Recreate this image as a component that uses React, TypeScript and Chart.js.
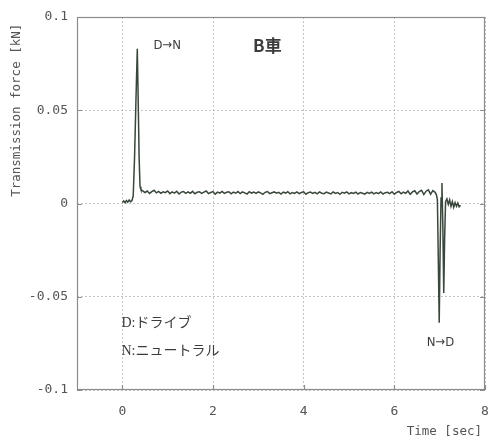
import React, { useEffect, useRef } from "react";
import { Chart, registerables } from "chart.js";
Chart.register(...registerables);

// ---- data ----
const xTickValues = [0, 2, 4, 6, 8];
const yTickValues = [-0.1, -0.05, 0, 0.05, 0.1];
const yTickLabels = ["-0.1", "-0.05", "0", "0.05", "0.1"];

// before shift and D→N spike
const preTimes = [0.0, 0.03, 0.06, 0.09, 0.12, 0.15, 0.18, 0.21, 0.24, 0.27, 0.3, 0.33, 0.35, 0.37, 0.39, 0.41];
const preForces = [0.0006, 0.0014, 0.0004, 0.0016, 0.0007, 0.0019, 0.001, 0.0015, 0.004, 0.025, 0.055, 0.083, 0.055, 0.025, 0.009, 0.0075];

// neutral plateau, sampled every 0.05 s from 0.45 s
const flatStart = 0.45;
const flatStep = 0.05;
const flatForces = [
  0.0068, 0.0059, 0.0067, 0.0054, 0.0064, 0.0071, 0.0057, 0.0065, 0.0055, 0.0063,
  0.0058, 0.0067, 0.0053, 0.0062, 0.0056, 0.0066, 0.0051, 0.0061, 0.0064, 0.0054,
  0.0062, 0.0055, 0.0065, 0.0052, 0.006, 0.0063, 0.0054, 0.0061, 0.0067, 0.0053,
  0.0059, 0.0064, 0.005, 0.0061, 0.0056, 0.0065, 0.0054, 0.006, 0.0063, 0.0052,
  0.0061, 0.0055, 0.0064, 0.0053, 0.0062, 0.0057, 0.0051, 0.0063, 0.0056, 0.0061,
  0.0054, 0.0062, 0.0057, 0.0049, 0.006, 0.0064, 0.0053, 0.0058, 0.0062, 0.0055,
  0.006, 0.0051, 0.0061, 0.0056, 0.0063, 0.0052, 0.0059, 0.0054, 0.0062, 0.0053,
  0.0059, 0.0063, 0.005, 0.0058, 0.0061, 0.0054, 0.006, 0.0052, 0.0062, 0.0055,
  0.0053, 0.0061, 0.0056, 0.0051, 0.0062, 0.0054, 0.0059, 0.0049, 0.006, 0.0055,
  0.0062, 0.0052, 0.0058, 0.0054, 0.0061, 0.0051, 0.0059, 0.0055, 0.005, 0.006,
  0.0054, 0.0061, 0.0052, 0.0059, 0.0053, 0.0062, 0.0051, 0.0058, 0.006, 0.0053,
  0.0063, 0.005, 0.0059, 0.0065, 0.0052, 0.0061, 0.0055, 0.0067, 0.0049, 0.0062,
  0.0068, 0.0051, 0.0064, 0.0071, 0.0048, 0.0066, 0.0073, 0.005, 0.0069, 0.006,
];

// N→D transient
const postTimes = [6.93, 6.95, 6.97, 6.99, 7.01, 7.03, 7.05, 7.07, 7.09, 7.11, 7.13, 7.16, 7.19, 7.22, 7.25, 7.28, 7.31, 7.34, 7.37, 7.4, 7.43, 7.46];
const postForces = [0.0045, 0.002, -0.03, -0.064, -0.025, 0.003, 0.011, -0.012, -0.048, -0.018, 0.001, 0.0025, -0.0005, 0.002, -0.0015, 0.001, -0.002, 0.0005, -0.0015, 0.0002, -0.0018, -0.001];

const annotations = [
  { text: "D→N", x: 0.99, y: 0.0845, align: "center", font: "13px 'DejaVu Sans Condensed', 'DejaVu Sans'" },
  { text: "B車", x: 3.2, y: 0.0845, align: "center", font: "bold 17px 'Noto Sans CJK JP'" },
  { text: "D:ドライブ", x: -0.02, y: -0.064, align: "left", font: "14px 'Liberation Serif', 'Noto Sans CJK JP'" },
  { text: "N:ニュートラル", x: -0.02, y: -0.0795, align: "left", font: "14px 'Liberation Serif', 'Noto Sans CJK JP'" },
  { text: "N→D", x: 7.02, y: -0.0745, align: "center", font: "13px 'DejaVu Sans Condensed', 'DejaVu Sans'" },
];

const monoFont = "'DejaVu Sans Mono'";

export default function App() {
  const ref = useRef<HTMLCanvasElement>(null);

  useEffect(() => {
    const points: { x: number; y: number }[] = [];
    preTimes.forEach((t, i) => points.push({ x: t, y: preForces[i] }));
    flatForces.forEach((f, i) => points.push({ x: +(flatStart + i * flatStep).toFixed(3), y: f }));
    postTimes.forEach((t, i) => points.push({ x: t, y: postForces[i] }));

    const decor = {
      id: "decor",
      afterDraw(chart: any) {
        const { ctx, chartArea, scales } = chart;
        const { left, right, top, bottom } = chartArea;
        const xs = scales.x;
        const ys = scales.y;
        ctx.save();
        // frame
        ctx.strokeStyle = "#8c8c8c";
        ctx.lineWidth = 1.2;
        ctx.strokeRect(left + 0.5, top + 0.5, right - left - 1, bottom - top - 1);
        // inner ticks
        ctx.beginPath();
        xTickValues.forEach((v) => {
          const px = Math.round(xs.getPixelForValue(v)) + 0.5;
          ctx.moveTo(px, bottom);
          ctx.lineTo(px, bottom - 5);
        });
        yTickValues.forEach((v) => {
          const py = Math.round(ys.getPixelForValue(v)) + 0.5;
          ctx.moveTo(left, py);
          ctx.lineTo(left + 5, py);
          ctx.moveTo(right, py);
          ctx.lineTo(right - 5, py);
        });
        ctx.stroke();
        // annotations
        ctx.fillStyle = "#3c3c3c";
        ctx.textBaseline = "middle";
        annotations.forEach((a) => {
          ctx.font = a.font;
          ctx.textAlign = a.align as CanvasTextAlign;
          ctx.fillText(a.text, xs.getPixelForValue(a.x), ys.getPixelForValue(a.y));
        });
        // axis titles
        ctx.fillStyle = "#555";
        ctx.font = `12.5px ${monoFont}`;
        ctx.textAlign = "right";
        ctx.fillText("Time [sec]", right - 3, bottom + 42);
        ctx.translate(17, ys.getPixelForValue(0.05));
        ctx.rotate(-Math.PI / 2);
        ctx.textAlign = "center";
        ctx.fillText("Transmission force [kN]", 0, 0);
        ctx.restore();
      },
    };

    const chart = new Chart(ref.current!, {
      type: "line",
      data: {
        datasets: [
          {
            data: points,
            borderColor: "#3a473c",
            borderWidth: 1.5,
            pointRadius: 0,
            tension: 0,
            fill: false,
          },
        ],
      },
      options: {
        animation: false,
        responsive: false,
        layout: { padding: { top: 17, right: 6, left: 0, bottom: 0 } },
        plugins: { legend: { display: false }, tooltip: { enabled: false } },
        scales: {
          x: {
            type: "linear",
            min: -1,
            max: 8,
            afterBuildTicks: (scale: any) => {
              scale.ticks = xTickValues.map((v) => ({ value: v }));
            },
            afterFit: (scale: any) => {
              scale.height = 49;
              scale.paddingLeft = 0;
              scale.paddingRight = 0;
            },
            border: { display: false, dash: [2, 2] },
            grid: {
              drawTicks: false,
              color: "#c4c4c4",
              lineWidth: 1,
            },
            ticks: {
              padding: 14,
              color: "#555",
              font: { family: monoFont, size: 13 },
              maxRotation: 0,
              callback: (v: any) => String(v),
            },
          },
          y: {
            type: "linear",
            min: -0.1,
            max: 0.1,
            afterBuildTicks: (scale: any) => {
              scale.ticks = yTickValues.map((v) => ({ value: v }));
            },
            afterFit: (scale: any) => {
              scale.width = 77;
              scale.paddingTop = 0;
              scale.paddingBottom = 0;
            },
            border: { display: false, dash: [2, 2] },
            grid: {
              drawTicks: false,
              color: "#c4c4c4",
              lineWidth: 1,
            },
            ticks: {
              padding: 9,
              color: "#555",
              font: { family: monoFont, size: 13 },
              callback: (v: any) => {
                const i = yTickValues.findIndex((t) => Math.abs(t - Number(v)) < 1e-9);
                return i >= 0 ? yTickLabels[i] : "";
              },
            },
          },
        },
      } as any,
      plugins: [decor],
    });
    return () => chart.destroy();
  }, []);

  return (
    <div style={{ position: "fixed", left: 0, top: 0, width: 491, height: 439, background: "#fff" }}>
      <canvas ref={ref} width={491} height={439} />
    </div>
  );
}
